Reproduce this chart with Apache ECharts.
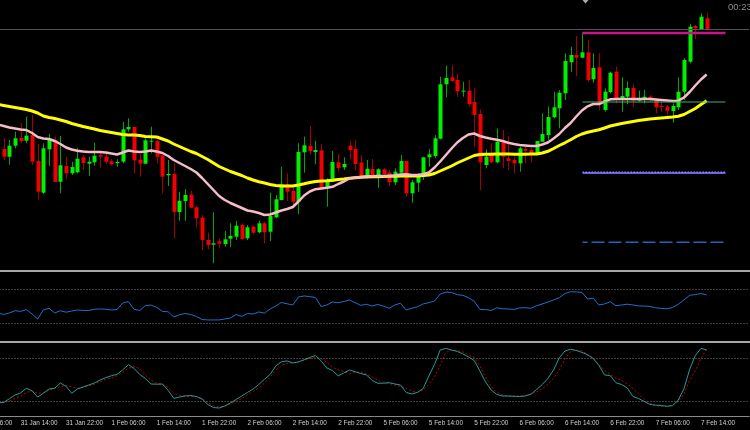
<!DOCTYPE html>
<html><head><meta charset="utf-8">
<script src="https://cdn.jsdelivr.net/npm/echarts@6/dist/echarts.min.js"></script>
<style>html,body{margin:0;padding:0;background:#000}#c{width:750px;height:430px}</style>
</head><body><div id="c"></div>
<script>
// ---- time axis: hourly bars (weekend skipped) ----
const sessionDays = [['31 Jan', 6, 23], ['1 Feb', 0, 23], ['2 Feb', 0, 23], ['5 Feb', 0, 23], ['6 Feb', 0, 23], ['7 Feb', 0, 22]];
const lastLabelIndex = 128; // '7 Feb 14:00'

// ---- candles (open, close, low, high), first candle = 31 Jan 11:00 ----
const candleStart = 5;
const ohlc = [
[121,113.3,110,131.7],[113.3,124.3,105.3,130],[124.3,131.7,121.7,138.3],[132,129,126.7,146.7],[129.3,134.3,126.7,153.3],
[135,108.3,105,155],[109,78.3,70.7,126],[77.3,121.7,76,126.7],[120.7,130,104,136],[130,88,88,133.3],
[88.3,104.7,76.7,134],[104,96.7,91,113.3],[96.7,103,95,108.3],[97.7,111.3,96.7,122.3],[112.7,107,100,115],
[106.3,108.3,94,113.3],[107.7,114.3,104.3,127.3],[114.7,113.3,102.3,117.3],[113.3,108.3,105.7,119.3],[108.7,106,104.3,111],
[107,108,103.3,110.7],[108.3,140.7,106.7,148.3],[140.7,143,138.3,151.7],[143,109.7,96.7,143],[110.3,106.3,93.3,116],
[106.3,129.7,106.3,131.7],[128.3,129.3,116.7,143.3],[129,113.3,106.7,130],[114.7,93.3,76.7,114.7],[94.7,96,84,110],
[96,58,31.7,106.7],[58,69.3,49.3,78.3],[69,75,49.3,81],[75.3,62.3,61.7,79.3],[62.7,51.7,42.3,64.3],
[52.3,30,20,55],[30,25,20.7,37.3],[25.3,26.7,6.7,57.7],[28.7,26.3,21.7,31.7],[26,30.7,23.3,39],
[31.3,34,22.7,46.7],[33.3,44.3,30,49.3],[45,31,30,46.7],[31.7,42.7,30,45],[43.3,37.3,35.7,44.3],
[37.7,46.7,36.7,49.3],[46.7,37.7,26.7,48.3],[38.3,54,29,77.3],[52.7,70.7,51.7,75],[70,85.7,70,103.3],
[85.7,78.3,69,96.7],[79,68.3,65,85.7],[68.3,118,56,126.7],[117.7,124.7,97.3,133.3],[124.3,118.7,115.3,144],
[118,120,105.7,129.3],[119.7,81.7,81.7,126],[81.7,88.3,63.3,91.7],[88.3,108,88.3,119],[107.7,102,98.3,116],
[102.7,106,100,112.7],[124.3,120,110.7,129],[121,106,100,130],[107.3,92.3,91.7,115],[92.7,101.3,91.7,110],
[101,93.3,91.7,111],[93.3,100.7,82.3,101.7],[100.7,96,95,101.7],[97.3,87.7,84,100],[87.7,98.3,85,101.7],
[97.3,109,96.7,115],[109,76.7,73.3,109],[76.7,87.7,67.3,90],[87.3,93.3,78.3,96.7],[93.3,112.7,90,112.7],
[112.7,115.7,103.3,121],[114,131.7,111.7,135],[131.3,185.7,130.7,193.3],[185.7,192,172.7,204.3],[192.7,189,188.3,205],
[190,178.7,173.3,196],[178.3,179.3,173.3,188.3],[179.3,166,163.3,190],[168,155,123.3,181.7],[156,107.7,80,160.7],
[105,113.3,101.7,120.7],[116.7,107.7,106.7,126.7],[107.7,128.3,106.7,141.7],[128.3,113.3,101.7,140],[111.7,109,100,134],
[110,106.7,96.7,113.3],[106.7,121.7,98.3,123.3],[121,119.3,106.7,123.3],[120,116,107.3,121.7],[116.7,129,116,129],
[128.3,136,128.3,156.7],[135,153,130,163.3],[152.7,162.7,151.7,178.3],[161.7,177.3,141.7,180],[176.7,209,170,216.7],
[207.7,215,198.3,223.3],[215,212.3,194,234],[212.3,217.7,211.7,237.3],[217.7,190,188.3,230],[190.7,202,187.3,216.7],
[202.7,166.7,160,216.7],[160,178.3,158.3,181.7],[178,197.3,176.7,198.3],[198.3,170,166.7,203.3],[170,174,158.3,192.7],
[173.3,182,165.7,188.7],[182,169.3,162.7,186],[169.3,171.7,168.3,179.3],[170.7,173.3,166.7,180],[173.3,170,168.3,175],
[170,162.7,156.7,171.7],[164,163.3,158.3,168.3],[163.3,159.3,155,165],[159,164,147.3,166.7],[162.7,178.3,160,192.7],
[178.3,210,170,211.7],[208.3,243.3,206.7,246],[244,241.7,230.7,245],[240.7,253.3,240.7,256.7],[251.7,241,241,257.3]
];

// ---- indicators, first value = 31 Jan 10:00 ----
const indStart = 4;
const maFast = [145.5,144,142.5,141.5,140.5,140,137,133,131.5,131,
129,126,122.5,120.5,119.3,118.5,118,118,118,117.5,
116.5,115.5,117.5,119.5,118.5,118,118.5,119.5,118.5,117,
114,110,107,104,101,97.5,92,86,80,74,
70,67,64.5,62,59.5,58.5,57,55,55.5,57.5,
59.5,61,63,68.5,74.5,78.5,80.8,81.5,82.2,83.2,
86,88.5,91.5,92.5,93,93.5,93.8,94,94,94,
94.5,95.5,95.7,95,95,95.7,97.5,102.5,108.5,115,
121.5,127.5,132,135.5,136.5,134,132.5,131.2,130.3,129,
127.3,126,125,124.5,124,124,125.5,127.5,131.5,136,
142,147,153.5,159.5,163.7,166,166,168.5,170.7,171,
171,171,171,171,171,171,170.5,170,169.5,169,
169.3,172.5,178,184.5,190.5,195.5];
const maSlow = [165.5,164.5,163.5,162.5,161.5,160.5,159,157,154,152.5,
151.5,150,148.5,146.5,145,143.5,142.2,141,139.5,138.5,
137.5,136.5,135.5,135,135,134.5,133.5,133.3,133,131,
129,126,123.5,121,118.5,116.5,113.5,110.5,107,103.5,
101,98.5,96.5,94.5,92,90,88.2,87,85.5,84.5,
84,84,84,85,86.2,87.5,88.5,89,89.2,89.8,
90.5,91,91.7,92.3,92.7,93,93.2,93.3,93.5,93.7,
93.8,94,94,94,94,94.5,95,96.5,99,101.5,
104,107,109.5,112,114.5,115.4,115.7,115.8,115.9,116,
115.9,115.8,115.7,115.8,115.9,116,117,118.7,121.5,124.5,
127.2,130.3,133.5,136,137.7,139,140.2,142,144,145.3,
146.5,147.5,148.5,149.5,150.3,151,151.5,152,152.5,153,
153.7,155.5,158.5,161.5,165.5,169.3];
const rsi = [42.6,40.8,42.6,45.3,44.4,46.7,41.4,35.5,46.1,48.1,
42.6,45.2,43.5,44.9,46.1,45.5,45.5,46.9,47.3,46.9,
46.1,46.7,54.4,55.9,46.9,45.5,51.4,51.8,49.1,44.4,
44.0,37.9,40.5,42.0,40.8,38.4,34.9,34.4,34.4,34.4,
35.5,36.7,40.8,38.5,42.0,41.4,43.8,42.4,47.3,50.8,
54.9,53.4,52.0,61.4,62.6,61.8,60.8,50.2,52.0,55.5,
54.6,56.1,57.9,54.6,51.6,52.8,50.8,52.6,50.5,48.1,
52.0,54.0,46.1,48.1,49.9,53.2,54.8,56.7,64.9,67.1,
66.7,64.1,63.4,60.5,56.4,46.7,46.7,45.5,48.7,47.5,
47.3,46.7,48.5,48.8,48.1,51.1,53.2,55.5,57.9,60.5,
65.5,67.6,67.3,66.9,59.1,59.9,52.0,53.2,55.8,51.1,
52.0,52.9,52.0,50.8,50.8,50.2,48.7,48.0,47.5,49.1,
52.8,57.9,63.4,64.2,65.5,63.8];
const stochMain = [18.7,18.9,24.1,29.3,32.1,38.6,35.1,26.5,31.7,37.6,
38.6,45.9,41.3,31.7,37.6,40.4,43.1,45.9,50.0,53.2,
55.9,57.9,63.9,71.2,65.9,57.7,52.1,44.5,44.2,44.5,
35.9,24.7,26.5,27.9,28.6,27.2,23.8,16.2,12.0,11.3,
14.1,18.3,23.1,27.9,32.8,37.6,43.8,51.0,57.7,69.4,
75.2,76.3,73.6,74.9,78.0,81.2,83.9,76.3,66.6,63.2,
55.6,59.7,63.9,61.4,59.0,57.0,49.4,45.5,45.6,46.3,
44.5,43.1,32.8,30.7,33.0,38.3,55.6,71.5,91.5,93.6,
91.5,89.5,86.0,81.8,77.0,62.5,47.3,36.2,30.0,27.9,
27.9,27.5,27.2,27.9,30.4,36.9,43.8,52.1,63.9,80.5,
90.1,92.5,90.8,88.1,84.9,79.4,70.1,57.0,56.0,46.2,
43.8,39.0,27.2,24.5,20.3,16.2,15.2,14.8,13.7,14.5,
22.4,37.9,64.6,83.9,93.6,91.5];
const stochSignal = [17.3,18.9,21.0,24.5,28.2,32.8,35.1,31.4,32.8,35.8,
38.3,40.8,42.2,40.4,38.6,40.0,41.8,44.5,47.7,50.7,
53.1,55.9,60.4,66.4,68.3,65.9,56.3,50.0,45.5,44.1,
39.7,32.1,28.6,27.9,27.5,27.0,24.1,18.9,14.4,13.1,
13.8,16.9,20.6,24.5,29.6,34.1,39.0,45.9,54.2,63.5,
70.5,72.9,73.8,75.2,77.0,79.4,81.4,79.8,74.2,67.3,
64.3,61.8,58.6,60.4,61.1,58.3,54.2,49.4,47.3,45.2,
43.1,41.1,38.3,34.8,33.0,36.2,44.5,54.2,70.8,88.1,
91.3,90.8,88.8,84.6,81.2,69.4,54.2,41.1,32.8,29.3,
27.9,27.9,27.9,28.6,30.7,33.5,37.9,43.8,52.8,63.9,
79.1,89.5,91.1,90.4,85.3,80.5,71.5,63.2,57.7,52.8,
49.4,44.5,38.3,30.7,23.1,17.6,14.8,13.4,13.4,15.5,
20.3,30.7,50.0,62.5,79.8,92.5];

// ---- horizontal objects & levels ----
const bidPrice = 241;
const objFrom = 107.1, objTo = 132.33;
const resistancePrice = 237, pivotPrice = 168, supportPrice = 97, support2Price = 27.7;
const rsiLevels = [70, 30];
const stochLevels = [80, 20];

// ---- build ----
const categories = [];
sessionDays.forEach(([d, h0, h1]) => { for (let h = h0; h <= h1; h++) categories.push(d + ' ' + String(h).padStart(2, '0') + ':00'); });
const pad = (arr, start) => new Array(start).fill('-').concat(arr);
const candleData = ohlc.map((r, i) => [i + candleStart, r[0], r[1], r[2], r[3]]);

const N = categories.length;           // 137
const barW = 5.669;
const gridLeft = -24.65 - barW / 2;
const gridWidth = N * barW;

const chart = echarts.init(document.getElementById('c'), null, { renderer: 'canvas' });

function renderCandle(params, api) {
  const k = api.value(0), o = api.value(1), c = api.value(2), l = api.value(3), h = api.value(4);
  const pO = api.coord([k, o]), pC = api.coord([k, c]), pL = api.coord([k, l]), pH = api.coord([k, h]);
  const w = 4;
  const up = c >= o;
  const xc = Math.round(pO[0]) + 0.5;
  const top = Math.min(pO[1], pC[1]);
  let hh = Math.abs(pO[1] - pC[1]); if (hh < 1) hh = 1;
  return { type: 'group', children: [
    { type: 'line', shape: { x1: xc, y1: pH[1], x2: xc, y2: pL[1] }, style: { stroke: up ? '#00a800' : '#a80000', lineWidth: 1 } },
    { type: 'rect', shape: { x: Math.round(pO[0]) - 1.5, y: top, width: w, height: hh }, style: { fill: up ? '#00f000' : '#f00000' } }
  ] };
}

const hLine = (y, color, width, type, offset, z) => ({
  type: 'line', xAxisIndex: 3, yAxisIndex: 0, data: [[objFrom, y], [objTo, y]],
  showSymbol: false, symbol: 'none', silent: true, z: z || 5,
  lineStyle: { color, width, type: type || 'solid', dashOffset: offset || 0 }
});

const levelMark = (levels) => ({
  silent: true, symbol: 'none', label: { show: false },
  lineStyle: { color: '#7c7c7c', width: 1, type: [1, 2] },
  data: levels.map(v => ({ yAxis: v }))
});

const gridBase = { left: gridLeft, width: gridWidth, containLabel: false, outerBoundsMode: 'none' };

const option = {
  backgroundColor: '#000000',
  animation: false,
  grid: [
    Object.assign({ top: 0, height: 270 }, gridBase),
    Object.assign({ top: 272, height: 69 }, gridBase),
    Object.assign({ top: 343.8, height: 73.5 }, gridBase)
  ],
  xAxis: [
    { gridIndex: 0, type: 'category', data: categories, show: false },
    { gridIndex: 1, type: 'category', data: categories, show: false },
    { gridIndex: 2, type: 'category', data: categories,
      axisLine: { lineStyle: { color: '#8a8a8a', width: 1 } },
      axisTick: { interval: 7, alignWithLabel: true, length: 3, lineStyle: { color: '#8a8a8a' } },
      axisLabel: { interval: 7, align: 'left', margin: 3, color: '#d0d0d0', fontSize: 6.4, fontFamily: 'Liberation Sans',
        formatter: (v, i) => (i <= lastLabelIndex ? v : '') },
      splitLine: { show: false } },
    { gridIndex: 0, type: 'value', min: -0.5, max: N - 0.5, show: false }
  ],
  yAxis: [
    { gridIndex: 0, type: 'value', min: 0, max: 270, show: false },
    { gridIndex: 1, type: 'value', min: 9.6, max: 90.8, show: false },
    { gridIndex: 2, type: 'value', min: -1.5, max: 100, show: false }
  ],
  series: [
    { type: 'custom', name: 'candles', xAxisIndex: 0, yAxisIndex: 0, data: candleData, renderItem: renderCandle,
      encode: { x: 0, y: [1, 2, 3, 4] }, clip: true, z: 2,
      markLine: { silent: true, symbol: 'none', label: { show: false }, lineStyle: { color: '#50555b', width: 1, type: 'solid' }, data: [{ yAxis: bidPrice }] } },
    { type: 'line', name: 'MA slow', xAxisIndex: 0, yAxisIndex: 0, data: pad(maSlow, indStart), showSymbol: false, z: 3,
      lineStyle: { color: '#ffff00', width: 3 } },
    { type: 'line', name: 'MA fast', xAxisIndex: 0, yAxisIndex: 0, data: pad(maFast, indStart), showSymbol: false, z: 3,
      lineStyle: { color: '#f6bcc8', width: 2.5 } },
    hLine(resistancePrice, '#c71585', 2.5),
    hLine(pivotPrice, '#3cb371', 1),
    hLine(supportPrice, '#6b61e4', 2),
    hLine(supportPrice + 1, '#9a98ff', 1, [1.5, 1.5]),
    hLine(support2Price, '#1f64c8', 1.5, [13, 4], 8),
    { type: 'line', name: 'RSI', xAxisIndex: 1, yAxisIndex: 1, data: pad(rsi, indStart), showSymbol: false,
      lineStyle: { color: '#1f6fd0', width: 1 }, markLine: levelMark(rsiLevels) },
    { type: 'line', name: 'Stoch signal', xAxisIndex: 2, yAxisIndex: 2, data: pad(stochSignal, indStart), showSymbol: false,
      lineStyle: { color: '#c00000', width: 1, type: [2, 2] }, markLine: levelMark(stochLevels) },
    { type: 'line', name: 'Stoch main', xAxisIndex: 2, yAxisIndex: 2, data: pad(stochMain, indStart), showSymbol: false,
      lineStyle: { color: '#1f9e9a', width: 1 } }
  ],
  graphic: [
    { type: 'rect', shape: { x: 0, y: 270, width: 750, height: 2 }, style: { fill: '#a6a6a6' }, silent: true },
    { type: 'rect', shape: { x: 0, y: 341, width: 750, height: 2 }, style: { fill: '#a6a6a6' }, silent: true },
    { type: 'polygon', shape: { points: [[582.5, 0], [588.5, 0], [585.5, 3.5]] }, style: { fill: '#a9adb3' }, silent: true },
    { type: 'text', x: 728, y: 2.5, style: { text: '00:23', fill: '#8c8c8c', font: '9.5px "Liberation Sans"' }, silent: true }
  ]
};
chart.setOption(option);
</script>
</body></html>
